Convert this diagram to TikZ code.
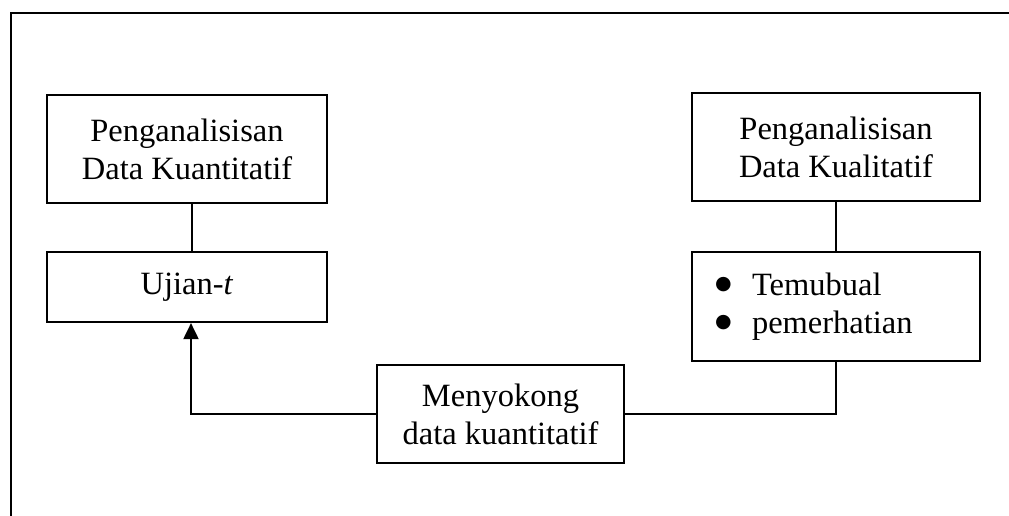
\documentclass[tikz,border=0pt]{standalone}
\usepackage{fontspec}
\setmainfont{Liberation Serif}
\newfontfamily\symfont{DejaVu Sans}
\usetikzlibrary{arrows.meta}
\tikzset{
    flow-box/.style = {draw, line width=2.2pt, minimum width=288pt, align=center, inner sep=0pt, font=\fontsize{32.5}{38}\selectfont},
    flow-line/.style = {line width=2pt},
}
\newcommand{\blob}{\makebox[37pt][l]{\raisebox{6pt}{\symfont\fontsize{19}{19}\selectfont ●}}}

\begin{document}
\begin{tikzpicture}[x=1pt,y=-1pt]
\useasboundingbox (0,0) rectangle (1009,516);
% frame, open on the right and at the bottom
\draw[line width=2.5pt] (1009,13) -- (11,13) -- (11,516);

\node[flow-box, minimum width=280pt, minimum height=108pt] (kuan) at (187,149) {Penganalisisan\\Data Kuantitatif};
\node[flow-box, minimum width=280pt, minimum height=70pt] (ujian) at (187,287) {Ujian-\textit{t}};
\node[flow-box, minimum height=108pt] (kual) at (836,147) {Penganalisisan\\Data Kualitatif};
\node[flow-box, minimum height=109pt, align=left, text width=242pt, inner xsep=23pt] (temu) at (836,306.5)
    {\blob Temubual\\\blob pemerhatian};
\node[flow-box, minimum width=247pt, minimum height=98pt] (sokong) at (500.5,414) {Menyokong\\data kuantitatif};

\draw[flow-line] ([xshift=5pt]kuan.south) -- ([xshift=5pt]ujian.north);
\draw[flow-line] (kual) -- (temu);
\draw[flow-line, -{Triangle[length=16pt,width=15pt]}] (sokong.west) -| ([xshift=4pt]ujian.south);
\draw[flow-line] (sokong.east) -| (temu.south);
\end{tikzpicture}
\end{document}
